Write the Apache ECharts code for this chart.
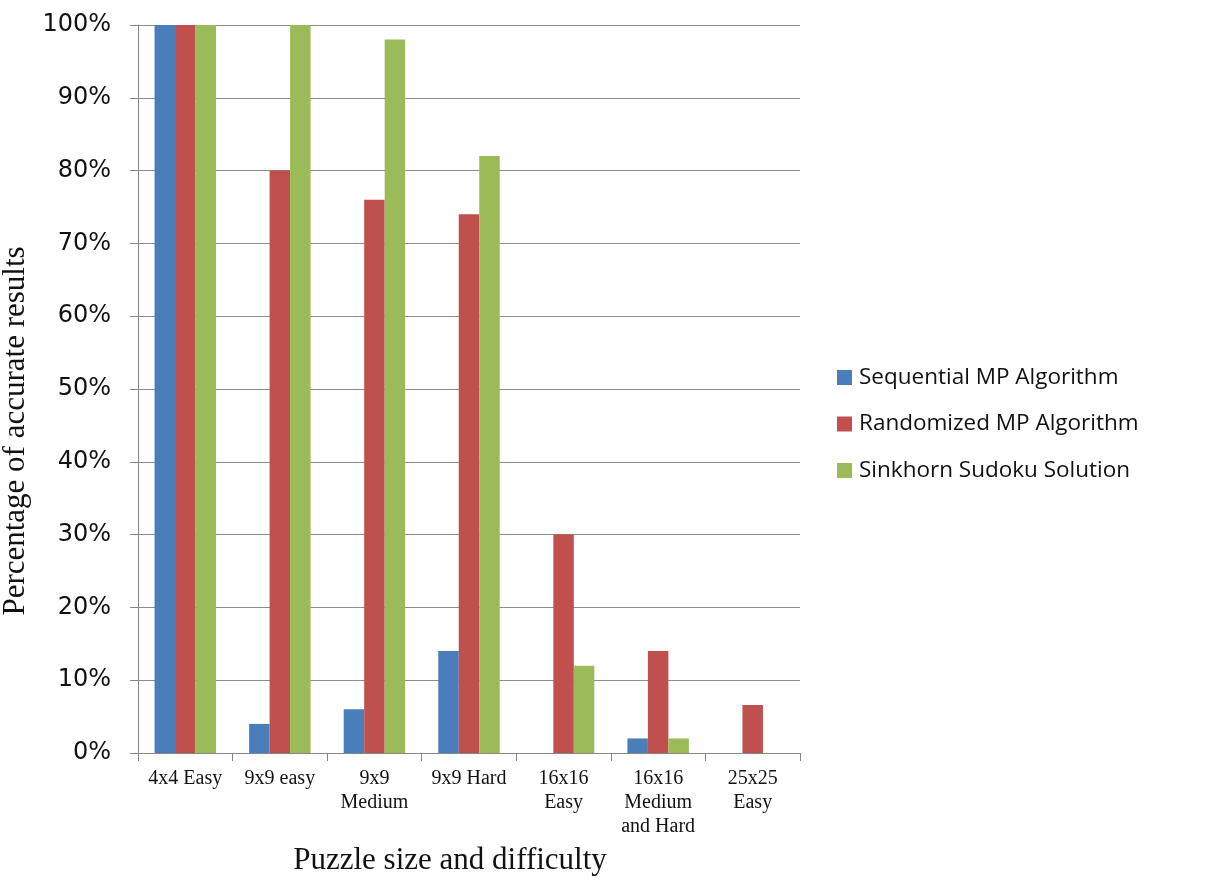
<!DOCTYPE html>
<html>
<head>
<meta charset="utf-8">
<script src="https://cdn.jsdelivr.net/npm/echarts@6/dist/echarts.min.js"></script>
<style>
  html, body { margin: 0; padding: 0; background: #fff; }
  #chart { width: 1206px; height: 882px; }
</style>
</head>
<body>
<div id="chart"></div>
<script>
// Puzzle categories (x axis)
const categories = ['4x4 Easy', '9x9 easy', '9x9\nMedium', '9x9 Hard', '16x16\nEasy', '16x16\nMedium\nand Hard', '25x25\nEasy'];

// Accuracy per solver, in percent
const sequentialMP = [100, 4, 6, 14, 0, 2, 0];
const randomizedMP = [100, 80, 76, 74, 30, 14, 6.6];
const sinkhorn = [100, 100, 98, 82, 12, 2, 0];

const seriesNames = ['Sequential MP Algorithm', 'Randomized MP Algorithm', 'Sinkhorn Sudoku Solution'];
const seriesColors = ['#4a7ebb', '#c0504d', '#9bbb59'];

const chart = echarts.init(document.getElementById('chart'), null, { renderer: 'canvas' });

const makeBar = (name, data, color) => ({
  name: name,
  type: 'bar',
  data: data,
  barGap: '0%',
  barCategoryGap: '35%',
  itemStyle: { color: color },
  emphasis: { disabled: true }
});

chart.setOption({
  animation: false,
  backgroundColor: '#ffffff',
  grid: { left: 138, right: 406, top: 25, bottom: 129, containLabel: false, outerBoundsMode: 'none' },
  legend: {
    orient: 'vertical',
    left: 832,
    top: 361,
    itemWidth: 15,
    itemHeight: 15,
    itemGap: 23.5,
    icon: 'rect',
    textStyle: { fontFamily: 'Open Sans', fontSize: 22.5, color: '#111', padding: [0, 0, 0, 2] },
    data: seriesNames
  },
  xAxis: {
    type: 'category',
    data: categories,
    name: 'Puzzle size and difficulty',
    nameLocation: 'middle',
    nameGap: 92,
    nameTextStyle: { fontFamily: 'Liberation Serif', fontSize: 31, color: '#111', padding: [0, 38, 0, 0] },
    axisLine: { show: true, lineStyle: { color: '#868686', width: 1 } },
    axisTick: { show: true, alignWithLabel: false, length: 8, lineStyle: { color: '#868686' } },
    axisLabel: {
      fontFamily: 'Liberation Serif',
      fontSize: 20,
      color: '#111',
      lineHeight: 24,
      margin: 14,
      interval: 0
    }
  },
  yAxis: {
    type: 'value',
    min: 0,
    max: 100,
    interval: 10,
    name: 'Percentage of accurate results',
    nameLocation: 'middle',
    nameGap: 98,
    nameRotate: 90,
    nameTextStyle: { fontFamily: 'Liberation Serif', fontSize: 31, color: '#111', padding: [0, 84, 0, 0] },
    axisLine: { show: true, lineStyle: { color: '#868686', width: 1 } },
    axisTick: { show: true, length: 8, lineStyle: { color: '#868686' } },
    axisLabel: {
      formatter: '{value}%',
      fontFamily: 'DejaVu Sans',
      fontSize: 24,
      color: '#111',
      margin: 27
    },
    splitLine: { show: true, lineStyle: { color: '#8c8c8c', width: 1 } }
  },
  series: [
    makeBar(seriesNames[0], sequentialMP, seriesColors[0]),
    makeBar(seriesNames[1], randomizedMP, seriesColors[1]),
    makeBar(seriesNames[2], sinkhorn, seriesColors[2])
  ]
});
</script>
</body>
</html>
